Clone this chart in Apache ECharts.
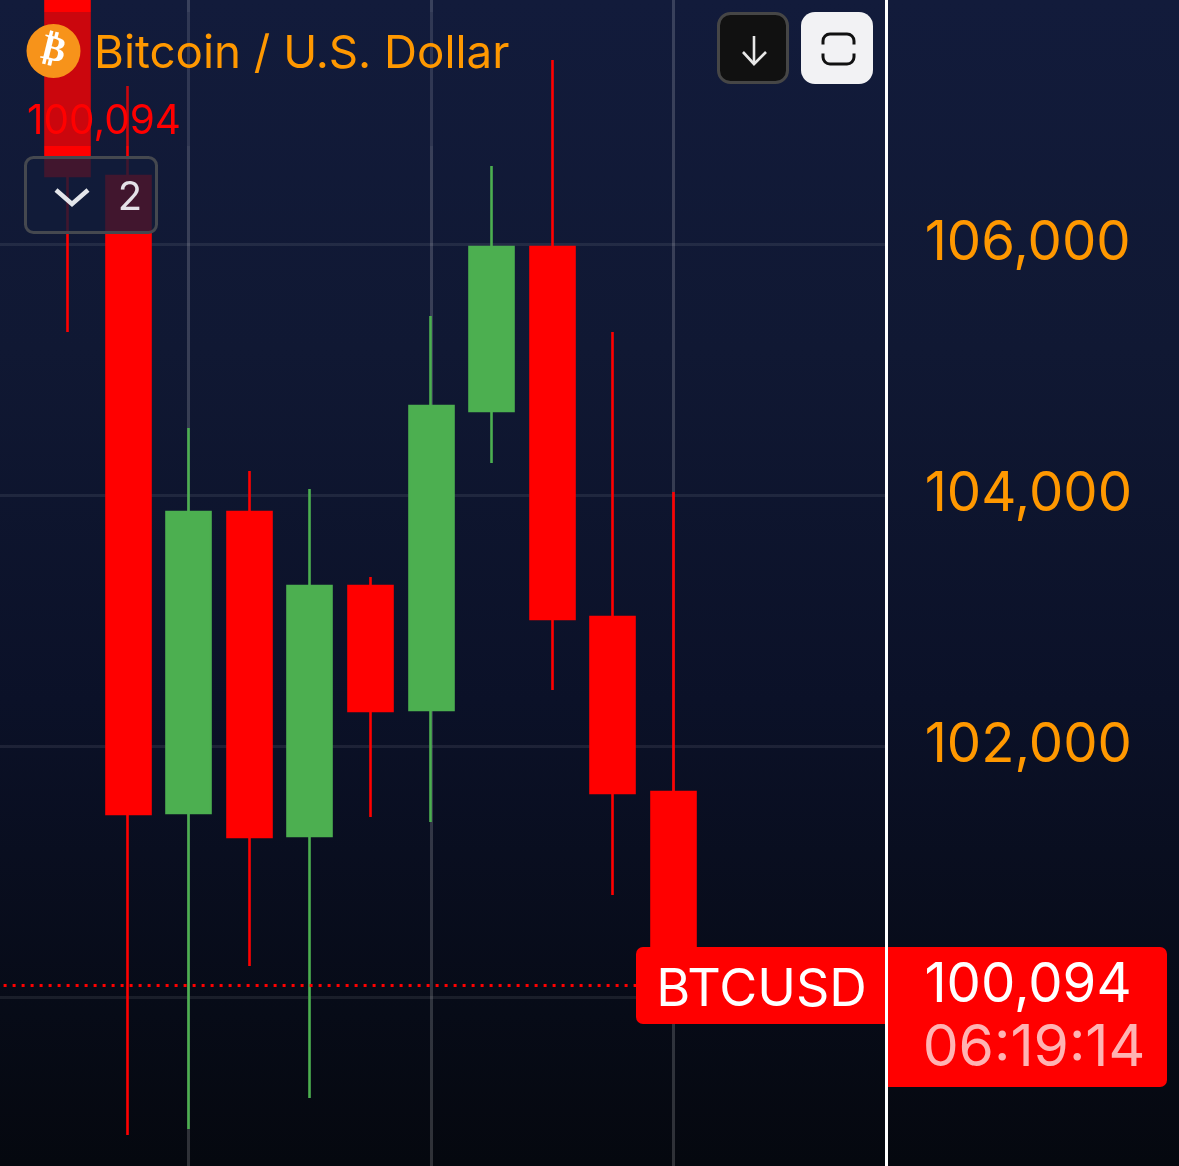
<!DOCTYPE html>
<html><head><meta charset="utf-8">
<style>html,body{margin:0;padding:0;background:#060914}#c{width:1179px;height:1166px;background:linear-gradient(180deg,#121b3b 0%,#101833 30%,#0b1128 60%,#05080f 100%)}</style>
<script src="https://cdn.jsdelivr.net/npm/echarts@6/dist/echarts.min.js"></script>
</head><body><div id="c"></div>
<script>
const categories = ['', 'C1','C2','C3','C4','C5','C6','C7','C8','C9','C10','C11','','',''];
const opens  = [null,108300,106542,101466,103864,101283,103275,102287,104669,105976,103028,101633,null,null,null];
const closes = [null,106542,101458,103864,101275,103275,102279,104709,105976,103012,101625,100094,null,null,null];
const lows   = [null,105299, 98900, 98948,100247, 99195,101434,101394,104255,102446,100813,100094,null,null,null];
const highs  = [null,108800,107259,104534,104191,104048,103347,105426,106621,107466,105299,104024,null,null,null];
const yTicks = [102000,104000,106000];
const lastPrice = 100094;
const verticalAt = [3,7,11];
const UP='#4caf50', DOWN='#ff0000', ORANGE='#ff9800';
const FONT='Inter, "Noto Sans", sans-serif';
const candleData = categories.map((c,i)=> opens[i]==null ? '-' : [opens[i],closes[i],lows[i],highs[i]]);

const chart = echarts.init(document.getElementById('c'),null,{renderer:'canvas'});
const Z=100;
chart.setOption({
  animation:false,
  backgroundColor:'transparent',
  grid:{left:-23.4,top:-7,width:909,height:1255,containLabel:false,outerBoundsMode:'none'},
  xAxis:{type:'category',data:categories,boundaryGap:true,
    axisLine:{show:false},axisLabel:{show:false},
    axisTick:{show:false,alignWithLabel:true},
    splitLine:{show:true,alignWithLabel:true,interval:(i)=>verticalAt.includes(i),lineStyle:{color:'rgba(255,255,255,0.17)',width:3}}},
  yAxis:{type:'value',position:'right',min:98000,max:108000,interval:2000,offset:0.6,scale:false,
    axisLine:{show:true,onZero:false,lineStyle:{color:'#ffffff',width:3}},
    axisTick:{show:false},
    splitLine:{show:true,lineStyle:{color:'rgba(255,255,255,0.08)',width:3}},
    axisLabel:{inside:false,margin:38.5,color:ORANGE,fontFamily:FONT,fontSize:54.5,align:'left',padding:[0,0,10,0],
      formatter:v=>yTicks.includes(v)?v.toLocaleString('en-US'):''}},
  series:[{type:'candlestick',data:candleData,barWidth:44.5,clip:true,
    itemStyle:{color:UP,color0:DOWN,borderColor:UP,borderColor0:DOWN,borderWidth:2.6},
    markLine:{silent:true,symbol:'none',label:{show:false},animation:false,
      lineStyle:{color:DOWN,type:[3,6],width:3,opacity:1},
      data:[{yAxis:lastPrice}]}}],
  graphic:{elements:[
    {type:'rect',z:Z,shape:{x:10,y:12,width:520,height:134},style:{fill:'rgba(18,27,57,0.22)'}},
    {type:'circle',z:Z+1,shape:{cx:53.5,cy:51,r:27},style:{fill:'#f7931a'}},
    {type:'text',z:Z+2,x:53.5,y:51,rotation:-0.24,style:{x:0,y:0,text:'₿',fill:'#fff',font:'bold 36px "DejaVu Sans"',align:'center',verticalAlign:'middle'}},
    {type:'text',z:Z+1,style:{x:94,y:54,text:'Bitcoin / U.S. Dollar',fill:ORANGE,font:'45.7px '+FONT,verticalAlign:'middle'}},
    {type:'text',z:Z+1,style:{x:27,y:122,text:lastPrice.toLocaleString('en-US'),fill:DOWN,font:'40.5px '+FONT,verticalAlign:'middle'}},
    {type:'rect',z:Z,shape:{x:25.5,y:157.5,width:131,height:75,r:8},style:{fill:'rgba(18,27,57,0.8)',stroke:'#45484f',lineWidth:3}},
    {type:'polyline',z:Z+1,shape:{points:[[56,190],[72,204],[88,190]]},style:{stroke:'#e4e6ea',lineWidth:4.5,fill:null}},
    {type:'text',z:Z+1,style:{x:130,y:198,text:'2',fill:'#e4e2e8',font:'40px '+FONT,align:'center',verticalAlign:'middle'}},
    {type:'rect',z:Z,shape:{x:718.5,y:13.5,width:69,height:69,r:12},style:{fill:'#111111',stroke:'#464646',lineWidth:3}},
    {type:'polyline',z:Z+1,shape:{points:[[754,36],[754,64]]},style:{stroke:'#e8e8e8',lineWidth:2.6,fill:null}},
    {type:'polyline',z:Z+1,shape:{points:[[743,52],[754,64],[766,52]]},style:{stroke:'#e8e8e8',lineWidth:2.6,fill:null}},
    {type:'rect',z:Z,shape:{x:801,y:12,width:72,height:72,r:14},style:{fill:'#f2f2f4'}},
    {type:'rect',z:Z+1,shape:{x:823,y:34,width:31,height:30,r:7},style:{fill:'#f2f2f4',stroke:'#111',lineWidth:3}},
    {type:'rect',z:Z+2,shape:{x:819,y:44.5,width:39,height:9},style:{fill:'#f2f2f4'}},
    {type:'rect',z:Z,shape:{x:636,y:947,width:249,height:77,r:[7,0,0,7]},style:{fill:DOWN}},
    {type:'text',z:Z+1,style:{x:761.5,y:990,text:'BTCUSD',fill:'#fff',font:'52px '+FONT,align:'center',verticalAlign:'middle'}},
    {type:'rect',z:Z,shape:{x:888,y:947,width:279,height:140,r:[0,7,7,0]},style:{fill:DOWN}},
    {type:'text',z:Z+1,style:{x:1028,y:986,text:lastPrice.toLocaleString('en-US'),fill:'#fff',font:'54.5px '+FONT,align:'center',verticalAlign:'middle'}},
    {type:'text',z:Z+1,style:{x:1034,y:1049,text:'06:19:14',fill:'#ffb3b3',font:'57px '+FONT,align:'center',verticalAlign:'middle'}}
  ]}
});
</script></body></html>
